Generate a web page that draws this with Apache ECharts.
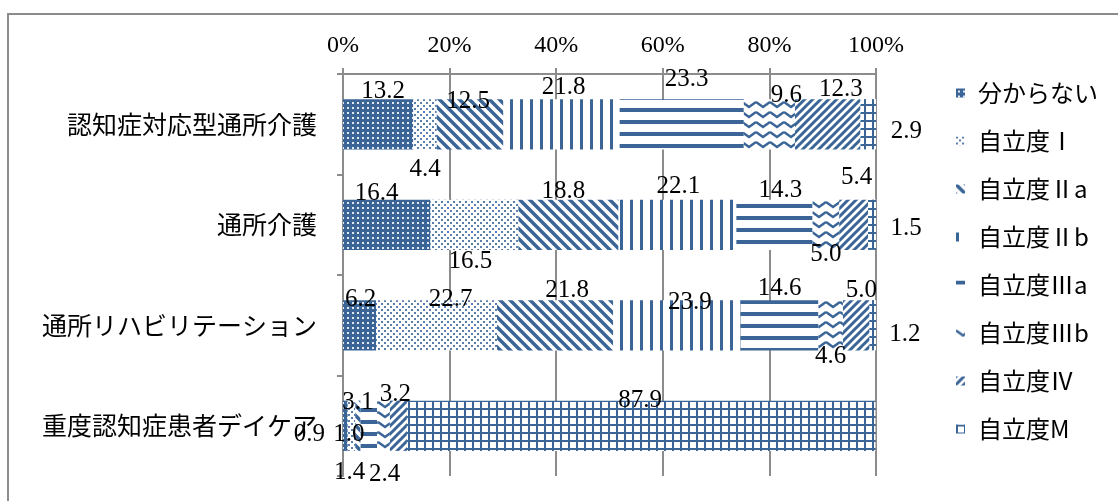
<!DOCTYPE html>
<html>
<head>
<meta charset="utf-8">
<script src="https://cdn.jsdelivr.net/npm/echarts@6/dist/echarts.min.js"></script>
<style>
  html, body { margin: 0; padding: 0; background: #fff; }
  #wrap { position: relative; width: 1118px; height: 501px; overflow: hidden; }
  #frame { position: absolute; left: 7px; top: 13px; width: 1200px; height: 600px; border: 2px solid #8c8c8c; }
  #chart { position: absolute; left: 0; top: 0; width: 1118px; height: 501px; }
</style>
</head>
<body>
<div id="wrap"><div id="frame"></div><div id="chart"></div></div>
<script>
const categories = ['認知症対応型通所介護', '通所介護', '通所リハビリテーション', '重度認知症患者デイケア'];
const seriesNames = ['分からない', '自立度Ⅰ', '自立度Ⅱa', '自立度Ⅱb', '自立度Ⅲa', '自立度Ⅲb', '自立度Ⅳ', '自立度M'];

// percentages per category (top to bottom)
const wakaranai = [13.2, 16.4, 6.2, 0.9];
const level1 = [4.4, 16.5, 22.7, 1.4];
const level2a = [12.5, 18.8, 21.8, 1.0];
const level2b = [21.8, 22.1, 23.9, 0.0];
const level3a = [23.3, 14.3, 14.6, 3.1];
const level3b = [9.6, 5.0, 4.6, 2.4];
const level4 = [12.3, 5.4, 5.0, 3.2];
const levelM = [2.9, 1.5, 1.2, 87.9];
const xTicks = [0, 20, 40, 60, 80, 100];

const seriesValues = [wakaranai, level1, level2a, level2b, level3a, level3b, level4, levelM];

// label nudges (px) as hand-placed in the original, null = no label
const labelOffsets = [
  [[5, -33], [-10, -31], [1, -26], [-36, 9]],
  [[0, 45], [-4, 37], [14, -26], [-2, 47]],
  [[-2, -23], [-5, -33], [12, -35], [-9, 9]],
  [[2, -37], [1, -38], [13, -23], null],
  [[5, -45], [6, -34], [0, -37], [-11, -23]],
  [[17, -29], [0, 30], [0, 31], [1, 49]],
  [[13, -35], [3, -47], [5, -35], [-3, -31]],
  [[38, 7], [34, 4], [32, 9], [-1, -25]]
];

const BLUE = '#3b6597';
const SERIF = "'Liberation Serif', 'Noto Sans CJK JP', serif";
const JP = "'Noto Sans CJK JP', sans-serif";

function tile(w, h, draw) {
  const c = document.createElement('canvas');
  c.width = w;
  c.height = h;
  const g = c.getContext('2d');
  g.fillStyle = '#fff';
  g.fillRect(0, 0, w, h);
  g.fillStyle = BLUE;
  g.strokeStyle = BLUE;
  draw(g, w, h);
  return { image: c, repeat: 'repeat' };
}

function lines(g, segs, lw) {
  g.lineWidth = lw;
  g.beginPath();
  segs.forEach(s => { g.moveTo(s[0], s[1]); g.lineTo(s[2], s[3]); });
  g.stroke();
}

const patterns = [
  // 分からない: dark with white dots
  tile(5, 5, g => { g.fillRect(0, 0, 5, 5); g.fillStyle = '#e4eaf2'; g.fillRect(2, 2, 2, 2); }),
  // Ⅰ: light dots
  tile(6, 6, g => { g.fillStyle = '#5b7fad'; g.fillRect(0, 0, 2, 2); g.fillRect(3, 3, 2, 2); }),
  // Ⅱa: downward diagonal
  tile(10, 10, g => lines(g, [[-10, 0, 10, 20], [0, 0, 10, 10], [-10, -10, 10, 10], [0, -10, 20, 10]], 3.5)),
  // Ⅱb: vertical
  tile(10, 1, g => { g.fillRect(0, 0, 3, 1); }),
  // Ⅲa: horizontal
  tile(1, 12, g => { g.fillRect(0, 0, 1, 4); }),
  // Ⅲb: wave
  tile(14, 10, g => {
    g.lineWidth = 2.5;
    g.beginPath();
    g.moveTo(0, 2); g.lineTo(7, 7); g.lineTo(14, 2);
    g.stroke();
  }),
  // Ⅳ: upward diagonal
  tile(8, 8, g => lines(g, [[-8, 8, 8, -8], [0, 8, 8, 0], [0, 16, 16, 0]], 3)),
  // M: grid
  tile(8, 8, g => { g.fillRect(0, 0, 8, 2); g.fillRect(0, 0, 2, 8); })
];

const chart = echarts.init(document.getElementById('chart'), null, { renderer: 'canvas' });

const series = seriesNames.map((name, si) => ({
  name: name,
  type: 'bar',
  stack: 'total',
  barWidth: '50%',
  itemStyle: { color: patterns[si] },
  data: seriesValues[si].map((v, ci) => {
    const off = labelOffsets[si][ci];
    return {
      value: v,
      label: off
        ? { show: true, position: 'inside', offset: off, formatter: v.toFixed(1) }
        : { show: false }
    };
  }),
  label: {
    color: '#000',
    fontFamily: SERIF,
    fontSize: 25
  },
  emphasis: { disabled: true }
}));

chart.setOption({
  animation: false,
  grid: { left: 343, right: 242, top: 74, bottom: 25, containLabel: false },
  legend: {
    orient: 'vertical',
    left: 951,
    top: 76,
    itemWidth: 9,
    itemHeight: 9,
    itemGap: 24,
    icon: 'rect',
    data: seriesNames,
    textStyle: {
      fontFamily: JP,
      fontSize: 24,
      lineHeight: 24,
      color: '#000',
      padding: [0, 0, 0, 8]
    }
  },
  xAxis: {
    type: 'value',
    position: 'top',
    min: 0,
    max: 100,
    interval: 20,
    axisLine: { show: true, lineStyle: { color: '#8c8c8c', width: 2 } },
    axisTick: { show: true, inside: false, length: 6, lineStyle: { color: '#8c8c8c', width: 2 } },
    splitLine: { show: true, lineStyle: { color: '#8c8c8c', width: 2 } },
    axisLabel: {
      formatter: v => xTicks.indexOf(v) >= 0 ? v + '%' : '',
      fontFamily: SERIF,
      fontSize: 24,
      color: '#000',
      margin: 16
    }
  },
  yAxis: {
    type: 'category',
    inverse: true,
    data: categories,
    axisLine: { show: true, lineStyle: { color: '#8c8c8c', width: 2 } },
    axisTick: { show: true, inside: false, length: 6, lineStyle: { color: '#8c8c8c', width: 2 } },
    axisLabel: {
      fontFamily: JP,
      fontSize: 25,
      color: '#000',
      margin: 26
    }
  },
  series: series
});
</script>
</body>
</html>
